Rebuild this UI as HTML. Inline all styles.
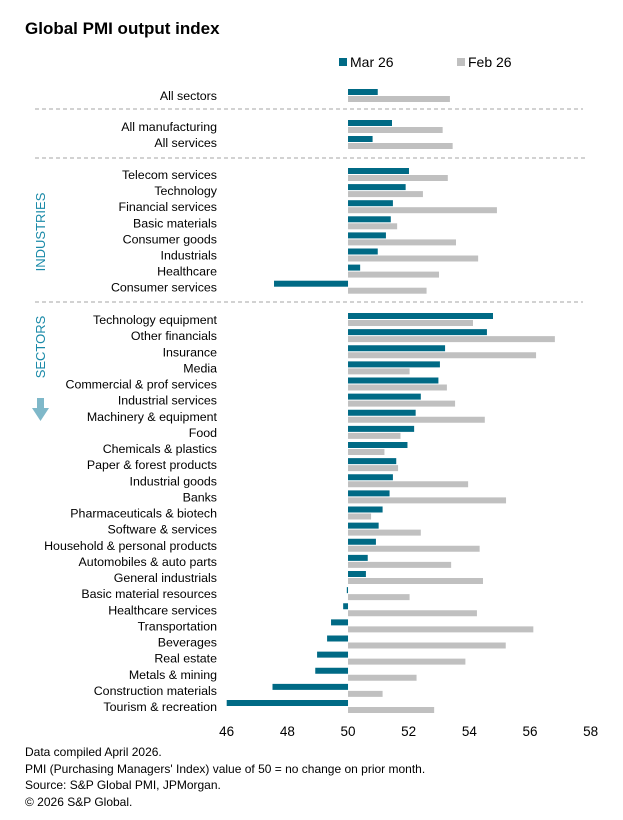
<!DOCTYPE html>
<html><head><meta charset="utf-8"><style>
body{margin:0;background:#fff;font-family:"Liberation Sans",Arial,sans-serif;}
svg text{font-family:"Liberation Sans",Arial,sans-serif;}
</style></head><body>
<svg id="c" width="623" height="815" xmlns="http://www.w3.org/2000/svg">
<text x="25" y="34" font-size="17" font-weight="bold" fill="#000">Global PMI output index</text>
<g>
<rect x="339" y="58" width="8" height="8" fill="#006a85"/>
<text x="350" y="67" font-size="14">Mar 26</text>
<rect x="457" y="58" width="8" height="8" fill="#c0c0c0"/>
<text x="468" y="67" font-size="14">Feb 26</text>
</g>
<line x1="35" y1="109" x2="583" y2="109" stroke="#a6a6a6" stroke-dasharray="4,3"/>
<line x1="35" y1="158" x2="585" y2="158" stroke="#a6a6a6" stroke-dasharray="4,3"/>
<line x1="35" y1="302" x2="583" y2="302" stroke="#a6a6a6" stroke-dasharray="4,3"/>
<text transform="translate(45,232) rotate(-90)" text-anchor="middle" font-size="13" fill="#1a8aa8">INDUSTRIES</text>
<text transform="translate(45,347) rotate(-90)" text-anchor="middle" font-size="13" fill="#1a8aa8">SECTORS</text>
<path d="M37,398 h7 v10 h5 l-8.5,13 l-8.5,-13 h5 z" fill="#7fb8c9"/>
<g id="bars"></g>
<g id="axis"></g>
<g font-size="12" fill="#000">
<text x="25" y="756">Data compiled April 2026.</text>
<text x="25" y="773">PMI (Purchasing Managers' Index) value of 50 = no change on prior month.</text>
<text x="25" y="789">Source: S&amp;P Global PMI, JPMorgan.</text>
<text x="25" y="806">© 2026 S&amp;P Global.</text>
</g>
</svg>
<script>
const categories=["All sectors","All manufacturing","All services","Telecom services","Technology","Financial services","Basic materials","Consumer goods","Industrials","Healthcare","Consumer services","Technology equipment","Other financials","Insurance","Media","Commercial & prof services","Industrial services","Machinery & equipment","Food","Chemicals & plastics","Paper & forest products","Industrial goods","Banks","Pharmaceuticals & biotech","Software & services","Household & personal products","Automobiles & auto parts","General industrials","Basic material resources","Healthcare services","Transportation","Beverages","Real estate","Metals & mining","Construction materials","Tourism & recreation"];
const mar26=[50.98,51.45,50.81,52.01,51.90,51.48,51.41,51.25,50.98,50.40,47.56,54.78,54.58,53.20,53.03,52.98,52.40,52.23,52.18,51.96,51.59,51.48,51.37,51.14,51.01,50.92,50.65,50.59,49.96,49.84,49.44,49.31,48.98,48.92,47.51,46.0];
const feb26=[53.36,53.12,53.45,53.29,52.47,54.91,51.62,53.56,54.29,53.0,52.59,54.12,56.82,56.20,52.03,53.26,53.53,54.51,51.73,51.20,51.65,53.96,55.21,50.76,52.40,54.34,53.40,54.45,52.03,54.25,56.11,55.20,53.87,52.26,51.14,52.84];
const ticks=[46,48,50,52,54,56,58];
const NS="http://www.w3.org/2000/svg";
function xs(v){return 226.7+(v-46)*30.33;}
function rowY(i){if(i===0)return 96;if(i<3)return 127+(i-1)*16;if(i<11)return 175+(i-3)*16.1;return 320+(i-11)*16.125;}
const bars=document.getElementById('bars');
function mk(tag,attrs){const e=document.createElementNS(NS,tag);for(const k in attrs)e.setAttribute(k,attrs[k]);return e;}
categories.forEach((c,i)=>{
 const y=rowY(i);
 const t=mk('text',{x:217,y:y+4,'text-anchor':'end','font-size':12.4});
 t.textContent=c;
 
 
 bars.appendChild(t);
 const x0=xs(50),xm=xs(mar26[i]),xf=xs(feb26[i]);
 const rm=mk('rect',{x:Math.min(x0,xm),y:y-7,width:Math.max(Math.abs(xm-x0),0.8),height:6,fill:'#006a85'});
 
 
 bars.appendChild(rm);
 const rf=mk('rect',{x:Math.min(x0,xf),y:y,width:Math.max(Math.abs(xf-x0),0.8),height:6,fill:'#c0c0c0'});
 
 
 bars.appendChild(rf);
});
const ax=document.getElementById('axis');
ticks.forEach(v=>{
 const t=mk('text',{x:xs(v),y:736,'text-anchor':'middle','font-size':13.5});
 t.textContent=v;
 
 
 ax.appendChild(t);
});
</script>
</body></html>
